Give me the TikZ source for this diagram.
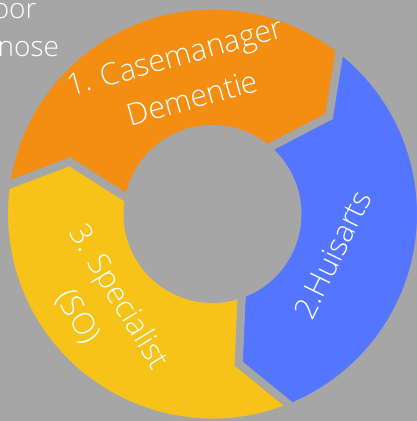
\documentclass[tikz,border=0pt]{standalone}
\usepackage{fontspec}
\setmainfont{Open Sans Light}
\definecolor{bggray}{HTML}{A6A6A6}
\definecolor{segorange}{HTML}{F38E12}
\definecolor{segblue}{HTML}{5475FF}
\definecolor{segyellow}{HTML}{F8C319}
\begin{document}
\begin{tikzpicture}[x=1bp,y=1bp,line join=miter,
  seg/.style={draw=bggray,line width=8bp},
  lbl/.style={text=white,font=\fontsize{30.5bp}{45bp}\selectfont,inner sep=0pt,anchor=base},
  corner/.style={text=white,font=\fontsize{28bp}{40bp}\selectfont,inner sep=0pt,anchor=base west}]
\fill[bggray] (-212.5,-207) rectangle (204.5,214);
\useasboundingbox (-212.5,-207) rectangle (204.5,214);
\begin{scope}
\clip (-212.5,-207) rectangle (204.5,214);
% orange: tail at 172.3, head at 52.3
\path[seg,fill=segorange] (172.3:208.5bp) arc[start angle=172.3,end angle=52.3,radius=208.5bp]
  -- (39.9:152bp) -- (50.1:85bp) arc[start angle=50.1,end angle=170.1,radius=85bp]
  -- (159.9:152bp) -- cycle;
% blue: tail at 52.3, head at -67.7
\path[seg,fill=segblue] (52.3:208.5bp) arc[start angle=52.3,end angle=-67.7,radius=208.5bp]
  -- (-80.1:152bp) -- (-69.9:85bp) arc[start angle=-69.9,end angle=50.1,radius=85bp]
  -- (39.9:152bp) -- cycle;
% yellow: tail at -67.7, head at -187.7
\path[seg,fill=segyellow] (-67.7:208.5bp) arc[start angle=-67.7,end angle=-187.7,radius=208.5bp]
  -- (-200.1:152bp) -- (-189.9:85bp) arc[start angle=-189.9,end angle=-69.9,radius=85bp]
  -- (-80.1:152bp) -- cycle;
\node[lbl,rotate=15.5] (t1) at (-35,147.3)
  {\begin{tabular}[t]{@{}c@{}}1. Casemanager\\\hspace*{12bp}Dementie\end{tabular}};
\node[lbl,rotate=64] (t2) at (129.8,-45.4) {2.Huisarts};
\node[lbl,rotate=-58.7] (t3) at (-101.8,-87.9)
  {\begin{tabular}[t]{@{}c@{}}3. Specialist\\(SO)\hspace*{8bp}\end{tabular}};
\node[corner] (c1) at (-219.9,195.7) {oor};
\node[corner] (c2) at (-215,157.3) {nose};
\end{scope}
\end{tikzpicture}
\end{document}
